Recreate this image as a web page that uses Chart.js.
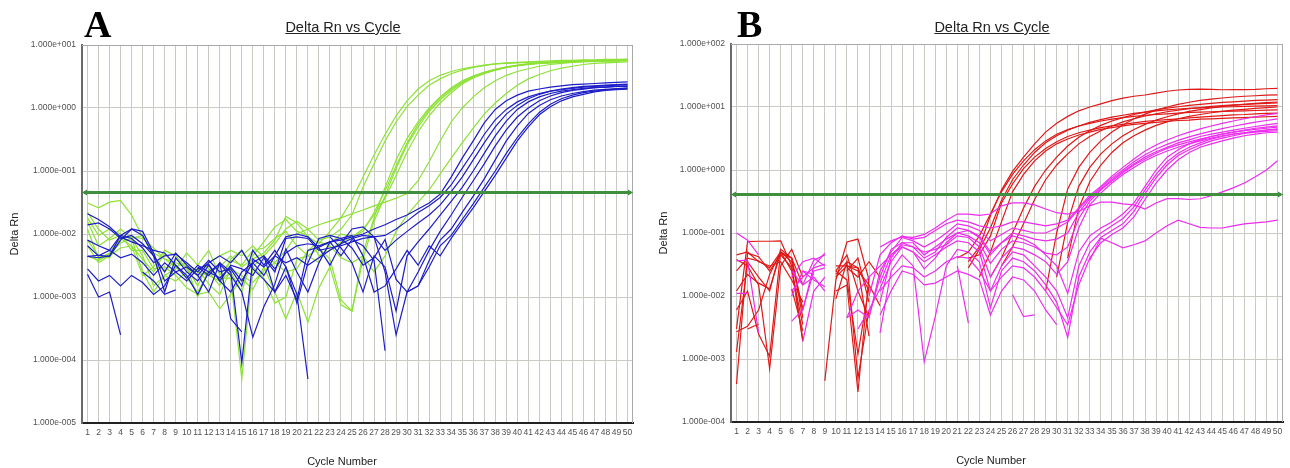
<!DOCTYPE html>
<html><head><meta charset="utf-8">
<script src="https://cdn.jsdelivr.net/npm/chart.js@4.4.1/dist/chart.umd.min.js"></script>
<style>
html,body{margin:0;padding:0;background:#fff;width:1290px;height:468px;overflow:hidden;position:relative;font-family:'Liberation Sans',Arial,sans-serif}
#cA{position:absolute;left:0;top:0}
#cB{position:absolute;left:645px;top:0}
.t{position:absolute;font-size:14.5px;line-height:17px;color:#222;text-decoration:underline;white-space:nowrap;transform:translateX(-50%)}
.p{position:absolute;font-family:'Liberation Serif','Times New Roman',serif;font-weight:bold;font-size:38px;line-height:38px;color:#000}
.x{position:absolute;font-size:11px;line-height:13px;color:#222;white-space:nowrap;transform:translateX(-50%)}
</style></head>
<body>
<canvas id="cA" width="645" height="468"></canvas>
<canvas id="cB" width="645" height="468"></canvas>
<div class="p" style="left:84px;top:5px">A</div>
<div class="p" style="left:737px;top:5px">B</div>
<div class="t" style="left:343px;top:19px">Delta Rn vs Cycle</div>
<div class="t" style="left:992px;top:19px">Delta Rn vs Cycle</div>
<div class="x" style="left:342px;top:455px">Cycle Number</div>
<div class="x" style="left:991px;top:454px">Cycle Number</div>
<script>
const _ = null;
const cycles = [1,2,3,4,5,6,7,8,9,10,11,12,13,14,15,16,17,18,19,20,21,22,23,24,25,26,27,28,29,30,31,32,33,34,35,36,37,38,39,40,41,42,43,44,45,46,47,48,49,50];
const yTicksA = [1e-5,1e-4,1e-3,1e-2,1e-1,1,10];
const yLabelsA = ['1.000e-005','1.000e-004','1.000e-003','1.000e-002','1.000e-001','1.000e+000','1.000e+001'];
const yTicksB = [1e-4,1e-3,1e-2,1e-1,1,10,100];
const yLabelsB = ['1.000e-004','1.000e-003','1.000e-002','1.000e-001','1.000e+000','1.000e+001','1.000e+002'];
const thresholdA = 0.047;
const thresholdB = 0.41;

// Panel A – green curves
const gA1 = [.031,.026,.032,.034,.02,.009,.005,.004,.003,.0035,
 .0022,.0025,.003,.0045,.003,.004,.005,.008,.019,.015,
 .009,.007,.011,.018,.035,.08,.18,.38,.75,1.3,
 2.0,2.7,3.3,3.8,4.2,4.5,4.8,5.0,5.1,5.2,
 5.3,5.4,5.4,5.5,5.5,5.6,5.6,5.6,5.7,5.7];
const gA2 = [.012,.004,.005,.009,.009,.0085,.006,.004,.0035,.003,
 .001,.0028,.002,.002,.00005,.003,.0045,.007,.012,.016,
 .012,.008,.009,.012,.02,.055,.13,.3,.6,1.05,
 1.6,2.3,2.9,3.5,4.0,4.4,4.7,5.0,5.2,5.3,
 5.4,5.5,5.6,5.7,5.7,5.8,5.8,5.9,5.9,6.0];
const gA3 = [.0065,.0035,.0045,.006,.0065,.004,.0025,.005,.003,.002,
 .0012,.0025,.0015,.004,.0055,.003,.002,.0008,.001,.004,
 .0045,.006,.004,.0009,.0006,.005,.018,.055,.15,.33,
 .6,1.0,1.5,2.1,2.7,3.2,3.7,4.1,4.4,4.7,
 4.9,5.1,5.2,5.3,5.4,5.5,5.5,5.6,5.6,5.7];
const gA4 = [.022,.012,.008,.0095,.0085,.0045,.0015,.0022,.0028,.005,
 .0032,.0055,.0022,.0038,.0032,.0055,.006,.0085,.011,.0065,
 .0045,.0035,.007,.01,.009,.011,.022,.048,.12,.28,
 .55,.95,1.45,2.0,2.6,3.2,3.7,4.1,4.5,4.8,
 5.0,5.2,5.3,5.4,5.5,5.6,5.6,5.7,5.7,5.8];
const gA5 = [.018,.0095,.012,.01,.0055,.0055,.0028,.003,.0022,.0014,
 .0011,.0012,.00065,.0011,.002,.0013,.003,.0012,.00045,.0012,
 .0004,.0014,.003,.00075,.0006,.004,.016,.04,.11,.26,
 .5,.88,1.35,1.9,2.5,3.1,3.6,4.0,4.4,4.7,
 4.9,5.1,5.2,5.3,5.4,5.5,5.5,5.6,5.6,5.7];
const gA6 = [.008,.0045,.0042,.0085,.0065,.0022,.003,.0055,.0045,.0028,
 .0025,.0022,.0018,.0025,.0012,.0045,.0075,.013,.017,.011,
 .0095,.0045,.0055,.0075,.009,.012,.02,.037,.085,.2,
 .42,.75,1.2,1.75,2.4,3.0,3.5,4.0,4.4,4.7,
 5.0,5.2,5.3,5.4,5.5,5.6,5.6,5.7,5.7,5.8];
const gA7 = [.016,.0065,.0085,.012,.0085,.0095,.0045,.0025,.004,.003,
 .0015,.0035,.0045,.0055,.0045,.0065,.0042,.0035,.0055,.01,
 .012,.014,.016,.018,.021,.024,.028,.032,.037,.044,
 .07,.14,.3,.6,1.0,1.5,2.1,2.7,3.3,3.8,
 4.2,4.6,4.9,5.1,5.3,5.4,5.5,5.6,5.6,5.7];
const gA8 = [.0045,.0038,.0048,.0072,.0085,.0025,.0012,.0022,.0018,.0025,
 .0028,.0016,.0011,.0028,.0022,.0017,.0026,.0035,.0025,.0028,
 .0055,.0075,.0065,.0042,.0035,.0045,.0025,.0045,.011,.02,
 .032,.05,.09,.16,.28,.48,.8,1.2,1.7,2.3,
 2.9,3.4,3.9,4.3,4.6,4.9,5.1,5.2,5.3,5.4];

// Panel A – blue curves
const bA1 = [.021,.017,.013,.009,.0075,.0065,.0055,.005,.0032,.002,
 .0032,.0025,.002,.003,.0018,.0035,.0045,.0028,.005,.0065,
 .007,.0065,.0075,.008,.009,.01,.012,.014,.017,.02,
 .025,.031,.043,.08,.16,.3,.58,.95,1.3,1.6,
 1.85,2.0,2.15,2.25,2.35,2.4,2.45,2.5,2.55,2.6];
const bA2 = [.014,.015,.012,.0085,.0095,.007,.0045,.0012,.0042,.0025,
 .0018,.0032,.0018,.0032,.0028,.0022,.0042,.0025,.0085,.009,
 .0085,.0055,.006,.0065,.0075,.0085,.009,.0095,.012,.016,
 .022,.028,.038,.06,.11,.2,.38,.65,.95,1.25,
 1.5,1.7,1.85,1.95,2.05,2.15,2.2,2.25,2.3,2.35];
const bA3 = [.0044,.0046,.0044,.008,.012,.011,.005,.0018,.0025,.003,
 .0022,.0012,.0035,.0025,.00009,.004,.003,.0045,.009,.01,
 .009,.006,.0032,.007,.012,.013,.009,.0055,.008,.011,
 .015,.02,.029,.047,.08,.15,.28,.5,.8,1.1,
 1.4,1.65,1.85,2.0,2.1,2.2,2.25,2.3,2.35,2.4];
const bA4 = [.0023,.001,.0012,.00025,_,.0025,.0018,.0011,.0013,_,
 .003,.0022,.0035,.00045,.00028,_,.0045,.0012,.003,.0011,
 .00005,_,.009,.006,.0035,.0012,.0045,.003,.0006,.0045,
 .0075,.012,.02,.033,.055,.1,.19,.36,.62,.95,
 1.25,1.5,1.7,1.85,1.95,2.05,2.1,2.15,2.2,2.25];
const bA5 = [.0044,.0042,.0045,.0095,.0085,.006,.0035,.0045,.0048,.0035,
 .0025,.0038,.0025,.0028,.0015,.0055,.0032,.0055,.003,.0008,
 .0035,.0085,.0095,.0085,.006,.0032,.0042,.0082,.0019,.0012,
 .0025,.0055,.011,.02,.038,.07,.13,.25,.45,.72,
 1.0,1.3,1.55,1.75,1.9,2.0,2.1,2.15,2.2,2.2];
const bA6 = [.0028,.0018,.0022,.0015,.0022,.0017,.0011,.0015,.0032,.0022,
 .0011,.0025,.0033,.0022,.0012,.00023,.0007,.0016,.0058,.0025,
 .0012,.0035,.0075,.0045,.0082,.0065,.0038,.00014,_,.0012,
 .0015,.0038,.008,.012,.022,.04,.075,.15,.3,.52,
 .82,1.1,1.35,1.55,1.7,1.82,1.92,1.98,2.03,2.08];
const bA7 = [.008,.0065,.0055,.0042,.0048,.0035,.0022,.0035,.0025,.0018,
 .0028,.0033,.0018,.0012,.0025,.0035,.0022,.0045,.0035,.0042,
 .0032,.0042,.0055,.007,.0085,.0095,.009,.0025,.00025,.0012,
 .0015,.003,.0065,.0095,.017,.03,.055,.1,.19,.34,
 .56,.85,1.15,1.4,1.6,1.75,1.85,1.95,2.0,2.05];
const bA8 = [.0065,.0045,.0055,.0095,.012,.0095,.0045,.0025,.005,.0032,
 .0022,.0035,.0045,.0035,.0055,.0028,.0019,.0012,.0022,.0009,
 .0055,.0062,.0075,.0085,.0095,.0045,.0012,.0015,.0028,.0055,
 .0032,.0065,.0045,.0085,.015,.026,.047,.085,.16,.3,
 .5,.78,1.05,1.3,1.5,1.65,1.8,1.9,1.95,2.0];

// Panel B – red curves
const rB1 = [.0004,.048,.042,.025,.045,.028,.0019,_,.00045,.018,
 .072,.08,.018,_,_,_,_,_,_,_,
 _,.035,.06,.19,.48,.95,1.6,2.6,4.0,5.5,
 7.1,8.7,10,11.2,12.6,13.8,14.8,15.5,16.6,17.8,
 18.6,19,19.2,19,18.8,18.9,18.9,19,19.5,19.8];
const rB2 = [.003,.073,.074,.074,.075,.03,.002,_,_,.02,
 .03,.028,.012,_,_,_,_,_,_,_,
 .04,.05,.09,.2,.45,.85,1.4,2.1,2.9,3.7,
 4.4,5.0,5.5,6.0,6.4,6.8,7.1,7.4,7.6,7.8,
 8.0,8.2,8.3,8.4,8.5,8.6,8.7,8.8,8.9,9.0];
const rB3 = [.0013,.035,.02,.012,.055,.04,.015,_,_,.025,
 .045,.012,.0045,_,_,_,_,_,_,_,
 _,.028,.055,.12,.33,.7,1.2,1.9,2.7,3.5,
 4.3,5.0,5.7,6.3,6.9,7.4,7.9,8.3,8.7,9.0,
 9.3,9.5,9.7,9.9,10,10.1,10.2,10.3,10.4,10.5];
const rB4 = [.025,.04,.036,.028,.05,.025,.0035,_,_,.022,
 .035,.028,.0023,_,_,_,_,_,_,_,
 _,.04,.045,.09,.3,.6,1.05,1.6,2.2,2.8,
 3.4,3.9,4.3,4.7,5.0,5.3,5.6,5.9,6.1,6.3,
 6.5,6.7,6.9,7.1,7.3,7.5,7.6,7.8,7.9,8.0];
const rB5 = [.038,.03,.015,.0007,.03,.055,.02,_,_,.012,
 .015,.0003,.02,_,_,_,_,_,_,_,
 _,_,.02,.05,.15,.45,.85,1.4,2.0,2.6,
 3.1,3.6,4.0,4.4,4.7,5.0,5.3,5.5,5.7,5.9,
 6.1,6.2,6.4,6.5,6.6,6.7,6.8,6.9,7.0,7.1];
const rB6 = [.0027,.0033,.006,.022,.05,.035,.006,_,_,_,
 .025,.04,.008,_,_,_,_,_,_,_,
 _,_,_,.02,.04,.1,.25,.55,1.0,1.6,
 2.4,3.3,4.2,5.1,6.0,6.8,7.6,8.3,9.0,9.6,
 10.1,10.6,11.0,11.4,11.8,12.1,12.4,12.7,12.9,13.1];
const rB7 = [.012,.022,.016,.013,.048,.04,.006,_,_,.03,
 .03,.025,.015,.007,_,_,_,_,_,_,
 _,_,_,_,.03,.06,.14,.34,.7,1.2,
 1.8,2.6,3.4,4.2,5.0,5.8,6.5,7.2,7.8,8.4,
 8.9,9.4,9.8,10.2,10.5,10.8,11.0,11.2,11.4,11.6];
const rB8 = [_,.003,.0036,_,_,.013,.0028,_,_,.009,
 .035,.0005,.006,_,_,_,_,_,_,_,
 _,_,_,_,_,_,_,_,.012,.1,
 .5,1.1,1.9,2.9,4.0,5.2,6.5,7.7,8.9,10,
 11,11.9,12.7,13.3,13.9,14.4,14.8,15.1,15.4,15.6];
const rB9 = [.006,.012,.0025,.0011,.05,.04,.0045,_,_,.025,
 .018,.0012,.014,_,_,_,_,_,_,_,
 _,_,_,_,_,_,_,_,_,.02,
 .15,.55,1.1,1.8,2.6,3.5,4.4,5.3,6.2,7.0,
 7.8,8.5,9.1,9.7,10.2,10.6,11.0,11.4,11.7,12.0];
const rB10 = [.045,.05,.035,.03,.035,.018,.008,_,_,_,
 .028,.02,.035,.02,_,_,_,_,_,_,
 _,_,_,_,_,_,_,_,_,_,
 .04,.25,.65,1.2,1.9,2.7,3.5,4.3,5.1,5.8,
 6.5,7.1,7.6,8.1,8.5,8.9,9.2,9.5,9.8,10.0];

// Panel B – magenta curves
const mB1 = [.1,.077,.045,_,_,_,.006,.03,.048,_,
 _,_,.01,.045,.07,.09,.08,.085,.11,.14,
 .16,.15,.13,.12,.13,.15,.15,.14,.13,.14,
 .16,.25,.4,.55,.8,1.1,1.5,2.0,2.5,3.0,
 3.5,4.0,4.5,5.0,5.5,6.0,6.5,7.0,7.5,7.9];
const mB2 = [_,_,_,_,_,.025,.015,.037,.045,_,
 .0045,.006,.0045,.025,.05,.085,.075,.06,.075,.1,
 .14,.13,.11,.075,.095,.12,.11,.1,.1,.12,
 .15,.24,.37,.53,.75,1.0,1.35,1.75,2.15,2.55,
 2.95,3.35,3.75,4.15,4.55,4.95,5.35,5.75,6.1,6.5];
const mB3 = [.011,.011,_,_,_,_,.0019,.012,.02,_,
 _,_,.0047,.02,.055,.07,.06,.04,.05,.085,
 .12,.11,.09,.05,.07,.1,.09,.08,.075,.08,
 .1,.21,.35,.5,.7,.95,1.25,1.6,1.95,2.3,
 2.7,3.0,3.4,3.7,4.0,4.3,4.6,4.9,5.2,5.5];
const mB4 = [_,_,_,_,_,.012,.02,.028,.032,_,
 _,.003,.006,.013,.035,.06,.05,.027,.04,.07,
 .1,.09,.07,.033,.055,.075,.07,.06,.048,.045,
 .06,.17,.32,.48,.67,.9,1.2,1.5,1.85,2.2,
 2.5,2.8,3.1,3.4,3.7,4.0,4.3,4.6,4.8,5.0];
const mB5 = [_,_,_,_,_,_,.025,.018,.014,_,
 .0045,.012,.02,.03,.045,.065,.06,.05,.055,.065,
 .09,.085,.06,.02,.04,.06,.055,.045,.035,.022,
 .035,.12,.28,.43,.62,.85,1.1,1.4,1.7,2.0,
 2.3,2.6,2.9,3.2,3.5,3.7,3.9,4.1,4.3,4.5];
const mB6 = [_,_,_,_,_,.02,.035,.04,.03,_,
 _,_,_,.008,.04,.07,.07,.045,.06,.08,
 .1,.11,.085,.045,.07,.09,.08,.065,.045,.03,
 .011,.05,.09,.12,.15,.2,.3,.55,1.0,1.6,
 2.1,2.6,3.0,3.4,3.7,4.0,4.2,4.4,4.6,4.8];
const mB7 = [_,_,_,_,_,.01,.025,.022,_,_,
 _,_,_,.016,.045,.06,.05,.035,.045,.06,
 .075,.07,.05,.012,.03,.05,.045,.03,.02,.012,
 .0045,.03,.07,.1,.13,.17,.26,.48,.85,1.35,
 1.85,2.3,2.7,3.1,3.4,3.7,3.9,4.1,4.3,4.4];
const mB8 = [_,_,_,_,_,_,.015,.02,.012,_,
 _,_,_,.0026,.025,.045,.03,.0009,.0047,.03,
 .055,.05,.035,.0065,.025,.04,.035,.025,.015,.008,
 .0022,.02,.05,.085,.11,.14,.22,.42,.75,1.2,
 1.7,2.1,2.5,2.9,3.2,3.5,3.8,4.0,4.1,4.2];
const mB9 = [_,_,_,_,_,.004,.006,.025,.028,_,
 _,_,_,.012,.02,.03,.028,.02,.025,.035,
 .042,.04,.025,.012,.02,.03,.028,.02,.012,.0065,
 .0035,.015,.04,.07,.095,.12,.18,.34,.62,1.0,
 1.45,1.9,2.3,2.6,2.9,3.2,3.5,3.7,3.9,4.0];
const mB10 = [_,_,_,_,_,_,_,_,_,_,
 _,_,_,.06,.075,.087,.085,.095,.12,.16,
 .2,.2,.19,.2,.27,.3,.3,.28,.24,.21,
 .2,.22,.27,.31,.31,.29,.28,.24,.3,.35,
 .35,.34,.35,.39,.45,.52,.62,.78,1.0,1.4];
const mB11 = [.036,.037,.0026,_,_,_,_,_,_,_,
 _,_,_,.005,.012,.025,.022,.015,.016,.02,
 .025,.022,.018,.005,.012,.02,.018,.012,.006,.0035,
 _,_,.037,.083,.07,.058,.065,.075,.1,.13,
 .16,.14,.123,.12,.12,.13,.14,.145,.15,.16];
const mB12 = [_,_,_,_,_,_,_,_,_,_,
 _,_,_,_,_,_,_,_,_,_,
 .03,.0037,_,_,_,.0105,.0047,.005,_,_,
 _,_,_,_,_,_,_,_,_,_,
 _,_,_,_,_,_,_,_,_,_];

const greenA = [gA1,gA2,gA3,gA4,gA5,gA6,gA7,gA8];
const blueA = [bA1,bA2,bA3,bA4,bA5,bA6,bA7,bA8];
const redB = [rB1,rB2,rB3,rB4,rB5,rB6,rB7,rB8,rB9,rB10];
const magentaB = [mB1,mB2,mB3,mB4,mB5,mB6,mB7,mB8,mB9,mB10,mB11,mB12];

const GREEN = '#8de236', BLUE = '#1c1cc8', RED = '#e01818', MAGENTA = '#ee2cee', THR = '#3f8f3f';
const GRID = '#cacac4';

Chart.defaults.font.family = "'Liberation Sans', Arial, sans-serif";

function ds(arr, color) {
  return arr.map(d => ({data: d, borderColor: color, borderWidth: 1.2, pointRadius: 0, tension: 0, fill: false, spanGaps: false}));
}

const thresholdPlugin = {
  id: 'threshold',
  afterDatasetsDraw(chart, args, opts) {
    const {ctx, chartArea: a, scales: {y}} = chart;
    const py = Math.round(y.getPixelForValue(opts.value)) + 0.5;
    ctx.save();
    ctx.strokeStyle = THR; ctx.fillStyle = THR; ctx.lineWidth = 3;
    ctx.beginPath(); ctx.moveTo(a.left + 2, py); ctx.lineTo(a.right - 2, py); ctx.stroke();
    ctx.beginPath(); ctx.moveTo(a.left, py); ctx.lineTo(a.left + 5, py - 3); ctx.lineTo(a.left + 5, py + 3); ctx.closePath(); ctx.fill();
    ctx.beginPath(); ctx.moveTo(a.right, py); ctx.lineTo(a.right - 5, py - 3); ctx.lineTo(a.right - 5, py + 3); ctx.closePath(); ctx.fill();
    ctx.restore();
  }
};
const framePlugin = {
  id: 'frame',
  beforeDatasetsDraw(chart) {
    const {ctx, chartArea: a} = chart;
    ctx.save();
    ctx.strokeStyle = '#a8a8a8'; ctx.lineWidth = 1;
    ctx.beginPath(); ctx.moveTo(a.left, a.top + 0.5); ctx.lineTo(a.right, a.top + 0.5);
    ctx.moveTo(a.right - 0.5, a.top); ctx.lineTo(a.right - 0.5, a.bottom); ctx.stroke();
    ctx.restore();
  }
};

function makeChart(id, datasets, p) {
  return new Chart(document.getElementById(id), {
    type: 'line',
    data: {labels: cycles, datasets},
    plugins: [framePlugin, thresholdPlugin],
    options: {
      responsive: false, animation: false, devicePixelRatio: 1,
      layout: {padding: {top: p.top, right: p.right, bottom: 0, left: 0}},
      plugins: {legend: {display: false}, tooltip: {enabled: false}, threshold: {value: p.threshold}},
      scales: {
        x: {
          type: 'category', offset: true,
          grid: {offset: false, color: GRID, drawTicks: false},
          border: {color: '#222', width: 2},
          ticks: {autoSkip: false, maxRotation: 0, minRotation: 0, padding: 5, color: '#505050', font: {size: 8.5}},
          afterFit: s => { s.height = p.xh; }
        },
        y: {
          type: 'logarithmic', min: p.min, max: p.max,
          afterBuildTicks: s => { s.ticks = p.ticks.map(v => ({value: v})); },
          afterFit: s => { s.width = p.yw; },
          grid: {color: GRID, drawTicks: false},
          border: {color: '#6a6a6a', width: 2},
          ticks: {autoSkip: false, padding: 6, color: '#505050', font: {size: 8.5}, callback: (v, i) => p.labels[i]},
          title: {display: true, text: 'Delta Rn', color: '#222', font: {size: 11}, padding: {top: p.ytp, bottom: 0}}
        }
      }
    }
  });
}

makeChart('cA', [...ds(blueA, BLUE), ...ds(greenA, GREEN)],
  {top: 45, right: 12, xh: 45, yw: 82, ytp: 8, min: 1e-5, max: 10, ticks: yTicksA, labels: yLabelsA, threshold: thresholdA});
makeChart('cB', [...ds(magentaB, MAGENTA), ...ds(redB, RED)],
  {top: 44, right: 7, xh: 46, yw: 86, ytp: 12, min: 1e-4, max: 100, ticks: yTicksB, labels: yLabelsB, threshold: thresholdB});
</script>
</body></html>
